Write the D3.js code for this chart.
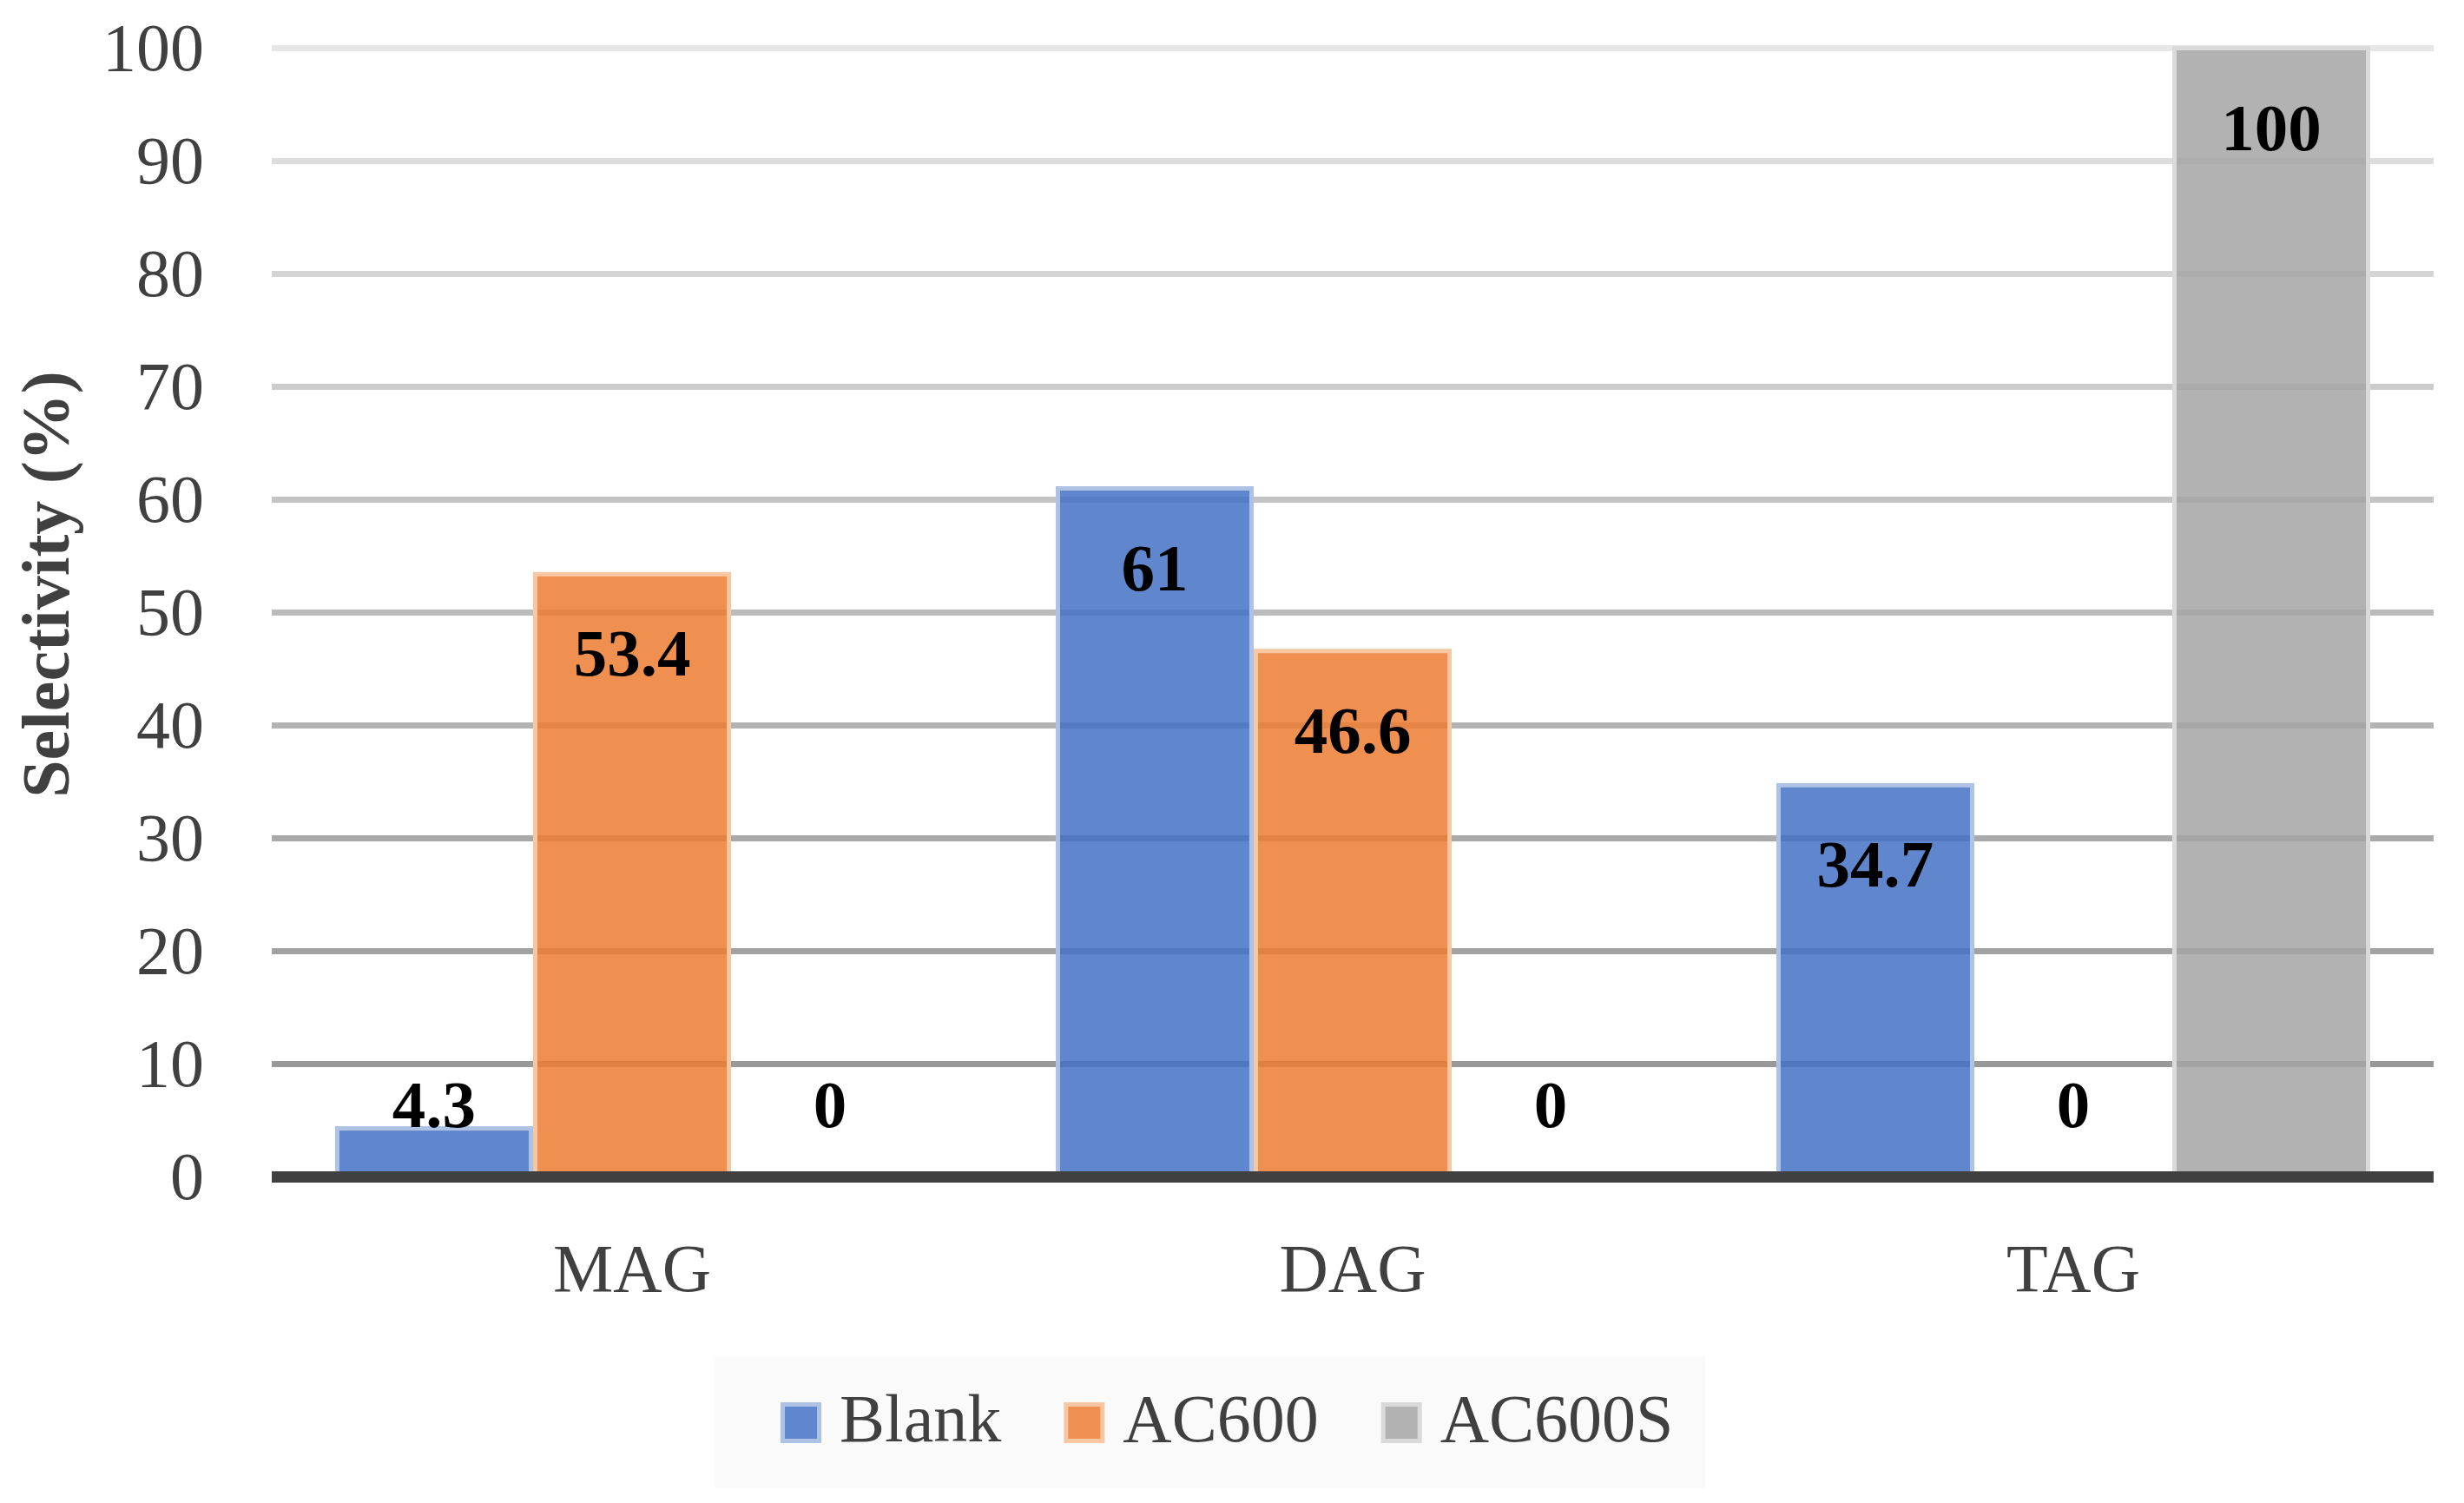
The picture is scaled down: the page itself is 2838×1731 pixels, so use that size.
<!DOCTYPE html>
<html>
<head>
<meta charset="utf-8">
<script src="https://cdn.jsdelivr.net/npm/d3@7"></script>
<style>
  html, body { margin: 0; padding: 0; background: #ffffff; }
  svg { display: block; }
</style>
</head>
<body>
<script>
// ---- data ----
const categories = ["MAG", "DAG", "TAG"];
const seriesNames = ["Blank", "AC600", "AC600S"];
const blankValues = [4.3, 61, 34.7];
const ac600Values = [53.4, 46.6, 0];
const ac600sValues = [0, 0, 100];
const yTickValues = [0, 10, 20, 30, 40, 50, 60, 70, 80, 90, 100];
const yAxisTitle = "Selectivity (%)";

const seriesValues = [blankValues, ac600Values, ac600sValues];
const seriesFill = ["#4472C4", "#ED7D31", "#A5A5A5"];
const seriesStroke = ["#adc2e4", "#f7c7a3", "#dadada"];

// ---- layout ----
const W = 2838, H = 1731;
const plot = { left: 313, right: 2803, top: 55.5, bottom: 1355.5 };
const serif = "'Liberation Serif', 'DejaVu Serif', serif";
const textGray = "#404040";

const svg = d3.select("body").append("svg")
  .attr("width", W).attr("height", H)
  .attr("viewBox", `0 0 ${W} ${H}`);
svg.append("rect").attr("width", W).attr("height", H).attr("fill", "#ffffff");

const y = d3.scaleLinear().domain([0, 100]).range([plot.bottom, plot.top]);
const x0 = d3.scaleBand().domain(categories).range([plot.left, plot.right]);
const gapRatio = 0.64;
const barW = x0.bandwidth() / (seriesNames.length + gapRatio);
const pad = (x0.bandwidth() - barW * seriesNames.length) / 2;
const x1 = d3.scaleBand().domain(seriesNames).range([pad, x0.bandwidth() - pad]);

// ---- gridlines (colour darkens toward the bottom) ----
const gridColor = d3.scaleLinear().domain([10, 100]).range(["#999999", "#e6e6e6"]).interpolate(d3.interpolateRgb);
svg.append("g").selectAll("line")
  .data(yTickValues.filter(v => v > 0))
  .join("line")
  .attr("x1", plot.left).attr("x2", plot.right)
  .attr("y1", d => y(d)).attr("y2", d => y(d))
  .attr("stroke", d => gridColor(d))
  .attr("stroke-width", 7);

// ---- y axis labels ----
const yAxis = svg.append("g")
  .attr("transform", `translate(${plot.left},0)`)
  .call(d3.axisLeft(y).tickValues(yTickValues).tickSize(0).tickPadding(78).tickFormat(d3.format("d")));
yAxis.select(".domain").remove();
yAxis.selectAll("text")
  .attr("font-family", serif).attr("font-size", 78).attr("fill", textGray);

// ---- bars ----
const bars = [];
categories.forEach((c, ci) => {
  seriesNames.forEach((s, si) => {
    bars.push({ cat: c, series: s, si: si, value: seriesValues[si][ci] });
  });
});

const barG = svg.append("g");
barG.selectAll("rect")
  .data(bars.filter(d => d.value > 0))
  .join("rect")
  .attr("x", d => x0(d.cat) + x1(d.series) + 2.5)
  .attr("width", x1.bandwidth() - 5)
  .attr("y", d => y(d.value))
  .attr("height", d => y(0) - y(d.value))
  .attr("fill", d => seriesFill[d.si])
  .attr("fill-opacity", 0.85)
  .attr("stroke", d => seriesStroke[d.si])
  .attr("stroke-width", 5);

// ---- x axis (zero line + category labels) ----
svg.append("line")
  .attr("x1", plot.left).attr("x2", plot.right)
  .attr("y1", y(0)).attr("y2", y(0))
  .attr("stroke", "#404040").attr("stroke-width", 13);

const xAxis = svg.append("g")
  .attr("transform", `translate(0,${y(0)})`)
  .call(d3.axisBottom(x0).tickSize(0).tickPadding(76));
xAxis.select(".domain").remove();
xAxis.selectAll("text")
  .attr("font-family", serif).attr("font-size", 78).attr("fill", textGray);

// ---- data labels ----
svg.append("g").selectAll("text")
  .data(bars)
  .join("text")
  .attr("x", d => x0(d.cat) + x1(d.series) + x1.bandwidth() / 2)
  .attr("y", d => Math.min(y(d.value) + 117, y(0) - 58))
  .attr("text-anchor", "middle")
  .attr("font-family", serif).attr("font-weight", "bold").attr("font-size", 77)
  .attr("fill", "#000000")
  .text(d => d.value);

// ---- y axis title ----
svg.append("text")
  .attr("transform", `translate(79,673) rotate(-90)`)
  .attr("text-anchor", "middle")
  .attr("font-family", serif).attr("font-weight", "bold").attr("font-size", 78)
  .attr("fill", textGray)
  .text(yAxisTitle);

// ---- legend ----
const legend = svg.append("g");
legend.append("rect")
  .attr("x", 823).attr("y", 1563).attr("width", 1964 - 823).attr("height", 1714 - 1563)
  .attr("fill", "#fafafa");
let lx = 899;
seriesNames.forEach((s, si) => {
  legend.append("rect")
    .attr("x", lx + 2.5).attr("y", 1615 + 2.5)
    .attr("width", 42).attr("height", 42)
    .attr("fill", seriesFill[si]).attr("fill-opacity", 0.85)
    .attr("stroke", seriesStroke[si]).attr("stroke-width", 5);
  const t = legend.append("text")
    .attr("x", lx + 68).attr("y", 1660)
    .attr("font-family", serif).attr("font-size", 78).attr("fill", textGray)
    .text(s);
  lx = lx + 68 + t.node().getComputedTextLength() + 72;
});
</script>
</body>
</html>
